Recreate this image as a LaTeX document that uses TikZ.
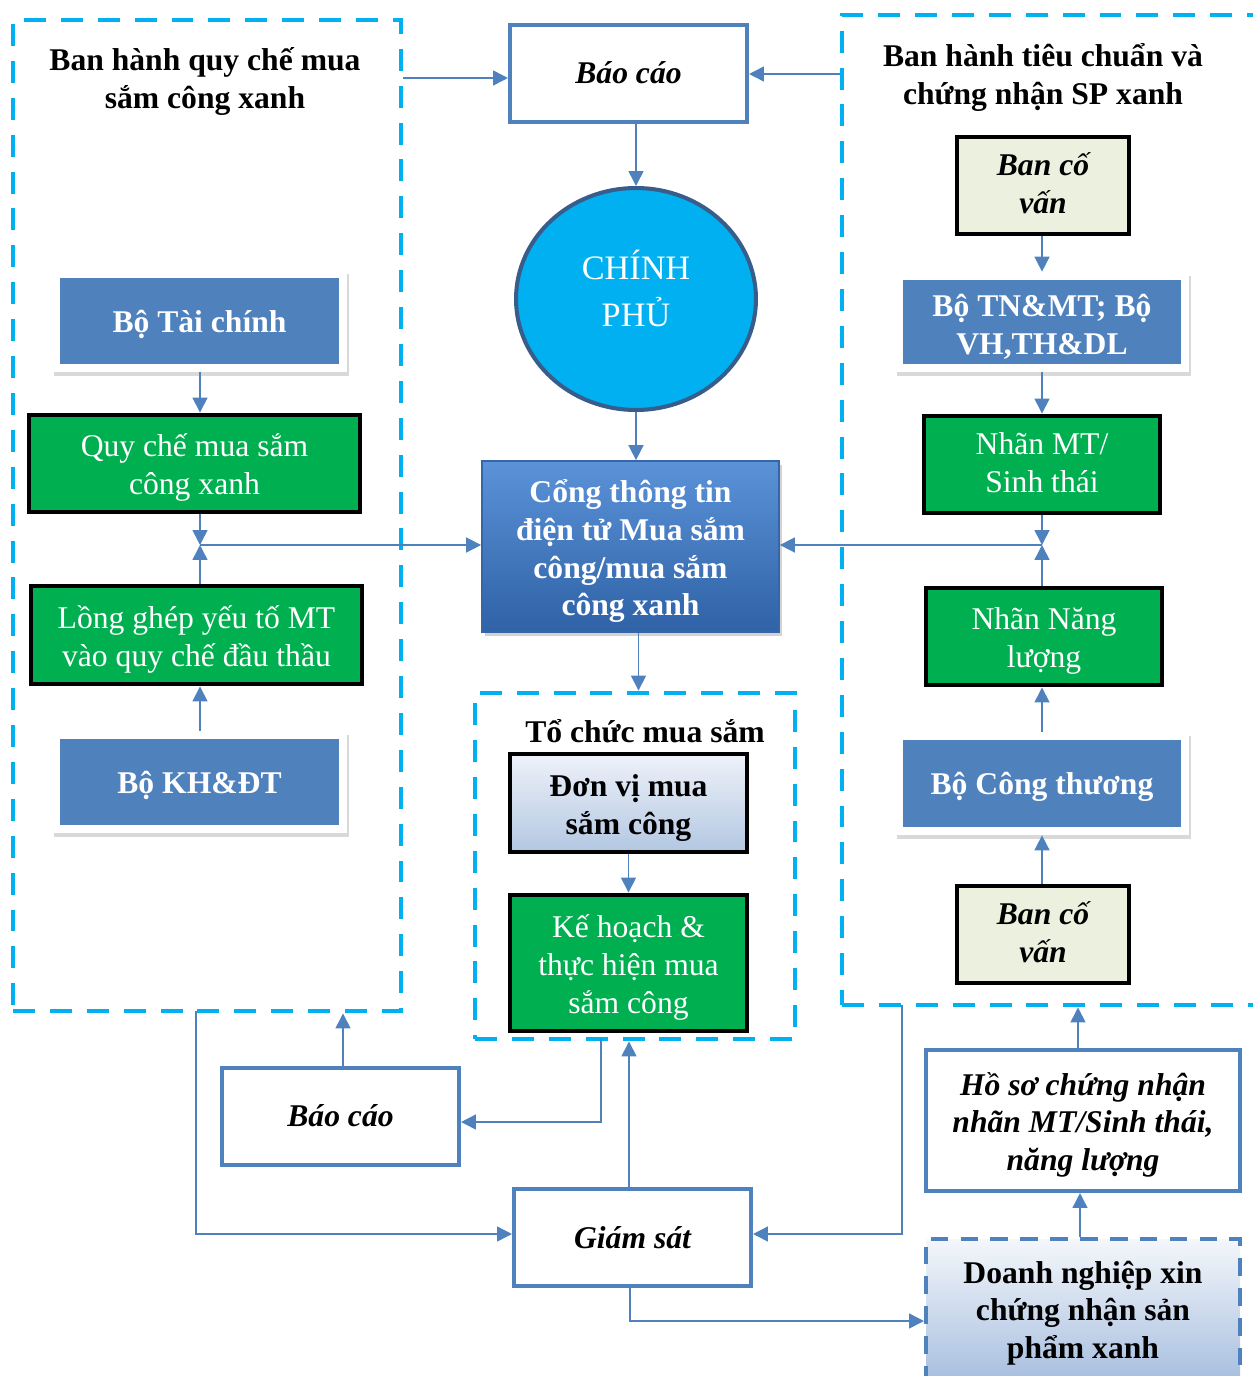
\documentclass[tikz,border=0pt]{standalone}
\usepackage{fontspec}
\setmainfont{Liberation Serif}
\usetikzlibrary{arrows.meta,shapes.geometric,shadows,calc}
\definecolor{cyanD}{HTML}{00B0F0}
\definecolor{boxblue}{HTML}{4F81BD}
\definecolor{lineblue}{HTML}{4F81BD}
\definecolor{grn}{HTML}{00B050}
\definecolor{cream}{HTML}{EBF1DE}
\definecolor{cpborder}{HTML}{385D8A}
\definecolor{congtop}{HTML}{5B92D8}
\definecolor{congbot}{HTML}{2F62A6}
\definecolor{congedge}{HTML}{3466A8}
\definecolor{dvtop}{HTML}{EEF2F9}
\definecolor{dvbot}{HTML}{B3C7E2}
\definecolor{dntop}{HTML}{F4F7FB}
\definecolor{dnbot}{HTML}{A8BFDF}
\newcommand\lns[2][2.2pt]{\raisebox{-#1}[\height][\depth]{\begin{tabular}{@{}c@{}}#2\end{tabular}}}
\tikzset{
  corners/.style n args={4}{at={({(#1+#3)/2},{(#2+#4)/2})}, anchor=center,
    minimum width={(#3-#1)*0.02cm}, minimum height={(#4-#2)*0.02cm}, inner sep=0pt},
  fs/.style={font=\fontsize{18}{21.5}\selectfont},
  fsb/.style={font=\fontsize{18}{21.5}\selectfont\bfseries},
  fsbi/.style={font=\fontsize{18}{21.5}\selectfont\bfseries\itshape},
  grp/.style={draw=cyanD, line width=2.8pt, dash pattern=on 12.5pt off 8.5pt, inner sep=0pt},
  title/.style={fsb, align=center, inner sep=0pt},
  outbox/.style={draw=lineblue, line width=2.3pt, fill=white, align=center, fsbi},
  greenbox/.style={draw=black, line width=2.8pt, fill=grn, align=center, fs, text=white},
  creambox/.style={draw=black, line width=2.8pt, fill=cream, align=center, fsbi},
  framed/.style={fill=white, align=center, fsb, text=white,
    drop shadow={opacity=0.3, shadow xshift=1pt, shadow yshift=-2.5pt},
    path picture={\fill[boxblue] ([shift={(4.5pt,-4.5pt)}]path picture bounding box.north west) rectangle ([shift={(-4.5pt,4.5pt)}]path picture bounding box.south east);}},
  conn/.style={draw=lineblue, line width=0.9pt, -{Triangle[width=8.5pt,length=8.5pt]}},
}
\begin{document}
\begin{tikzpicture}[x=0.02cm, y=-0.02cm]
\useasboundingbox (0,0) rectangle (1253,1376);
\clip (0,0) rectangle (1253,1376);

% group boxes
\node[grp, corners={13}{20}{401}{1011}] (leftgrp) {};
\node[grp, corners={842}{15}{1280}{1005}] (rightgrp) {};
\node[grp, corners={475}{693}{795}{1039}] (midgrp) {};
\node[title] (tleft) at (205,79) {\lns[1.7pt]{Ban hành quy chế mua\\sắm công xanh}};
\node[title] (tright) at (1043,75) {\lns[1.7pt]{Ban hành tiêu chuẩn và\\chứng nhận SP xanh}};
\node[title] (tmid) at (645,731) {Tổ chức mua sắm};

% top centre
\node[outbox, corners={510}{25}{747}{122}] (baocao1) {\lns[1.2pt]{Báo cáo}};
\node[ellipse, draw=cpborder, fill=cyanD, line width=2.3pt, inner sep=0pt,
      minimum width=4.8cm, minimum height=4.44cm, text=white, align=center,
      font=\fontsize{19.5}{21.5}\selectfont] (cp) at (636,299)
      {\raisebox{3pt}[\height][\depth]{\begin{tabular}{@{}c@{}}CHÍNH\\[3.5pt]PHỦ\end{tabular}}};
\node[corners={482}{461}{779}{632}, top color=congtop, bottom color=congbot,
      draw=congedge, line width=1pt, drop shadow={opacity=0.35, shadow xshift=1.5pt, shadow yshift=-2pt},
      fsb, text=white, align=center] (cong)
      {\lns[3pt]{Cổng thông tin\\điện tử Mua sắm\\công/mua sắm\\công xanh}};

% middle group
\node[corners={510}{754}{747}{852}, top color=dvtop, bottom color=dvbot,
      draw=black, line width=2.8pt, fsb, align=center] (donvi) {\lns[3pt]{Đơn vị mua\\sắm công}};
\node[greenbox, corners={510}{895}{747}{1031}] (kehoach) {\lns[2.8pt]{Kế hoạch \&\\thực hiện mua\\sắm công}};

% left column
\node[framed, corners={52}{270}{347}{372}] (taichinh) {\lns{Bộ Tài chính}};
\node[greenbox, corners={29}{415}{360}{512}] (quyche) {\lns[2.7pt]{Quy chế mua sắm\\công xanh}};
\node[greenbox, corners={31}{586}{362}{684}] (longghep) {\lns[2.7pt]{Lồng ghép yếu tố MT\\vào quy chế đầu thầu}};
\node[framed, corners={52}{731}{347}{833}] (khdt) {\lns{Bộ KH\&ĐT}};

% right column
\node[creambox, corners={957}{137}{1129}{234}] (ban1) {\lns[0.8pt]{Ban cố\\vấn}};
\node[framed, corners={895}{272}{1189}{372}] (tnmt) {\lns[3.2pt]{Bộ TN\&MT; Bộ\\VH,TH\&DL}};
\node[greenbox, corners={924}{416}{1160}{513}] (nhanmt) {\lns[0.8pt]{Nhãn MT/\\Sinh thái}};
\node[greenbox, corners={926}{588}{1162}{685}] (nhannl) {\lns[2.7pt]{Nhãn Năng\\lượng}};
\node[framed, corners={895}{732}{1189}{835}] (congthuong) {\lns{Bộ Công thương}};
\node[creambox, corners={957}{886}{1129}{983}] (ban2) {\lns[0.8pt]{Ban cố\\vấn}};

% bottom
\node[outbox, corners={222}{1068}{459}{1165}] (baocao2) {\lns[1.2pt]{Báo cáo}};
\node[outbox, corners={514}{1189}{751}{1286}] (giamsat) {\lns{Giám sát}};
\node[outbox, corners={926}{1050}{1240}{1191}] (hoso) {\lns[2.7pt]{Hồ sơ chứng nhận\\nhãn MT/Sinh thái,\\năng lượng}};
\node[corners={926}{1239}{1240}{1380}, top color=dntop, bottom color=dnbot,
      draw=lineblue, line width=2.3pt, dash pattern=on 10pt off 7pt, fsb, align=center] (dn)
      {\lns[2.2pt]{Doanh nghiệp xin\\chứng nhận sản\\phẩm xanh}};

% junction coordinates
\coordinate (jl) at (200,545);
\coordinate (jr) at (1042,545);
\coordinate (m1) at (601,1039);
\coordinate (l1) at (196,1011);
\coordinate (r1) at (902,1005);

% connectors
\draw[conn] (leftgrp.east |- 0,78) -- (baocao1.west |- 0,78);
\draw[conn] (rightgrp.west |- 0,74) -- (baocao1.east |- 0,74);
\draw[conn] (cp.north |- baocao1.south) -- (cp.north);
\draw[conn] (cp.south) -- (cp.south |- cong.north);
\draw[conn] ($(cong.south)+(8,0)$) -- ($(cong.south |- midgrp.north)+(8,0)$);
\draw[conn] (donvi.south) -- (kehoach.north);

\draw[conn] (taichinh.south -| jl) -- (quyche.north -| jl);
\draw[conn] (quyche.south -| jl) -- (jl);
\draw[conn] (longghep.north -| jl) -- (jl);
\draw[conn] (jl) -- (cong.west |- jl);
\draw[conn] (khdt.north -| jl) -- (longghep.south -| jl);

\draw[conn] (ban1.south -| jr) -- (tnmt.north -| jr);
\draw[conn] (tnmt.south -| jr) -- (nhanmt.north -| jr);
\draw[conn] (nhanmt.south -| jr) -- (jr);
\draw[conn] (nhannl.north -| jr) -- (jr);
\draw[conn] (jr) -- (cong.east |- jr);
\draw[conn] (congthuong.north -| jr) -- (nhannl.south -| jr);
\draw[conn] (ban2.north -| jr) -- (congthuong.south -| jr);

\draw[conn] (baocao2.north -| 343,0) -- (leftgrp.south -| 343,0);
\draw[conn] (m1) |- (baocao2.east |- 0,1122);
\draw[conn] (giamsat.north -| 629,0) -- (midgrp.south -| 629,0);
\draw[conn] (l1) |- (giamsat.west |- 0,1234);
\draw[conn] (r1) |- (giamsat.east |- 0,1234);
\draw[conn] (giamsat.south -| 630,0) |- (dn.west |- 0,1321);
\draw[conn] (hoso.north -| 1078,0) -- (rightgrp.south -| 1078,0);
\draw[conn] (dn.north -| 1080,0) -- (hoso.south -| 1080,0);
\end{tikzpicture}
\end{document}
